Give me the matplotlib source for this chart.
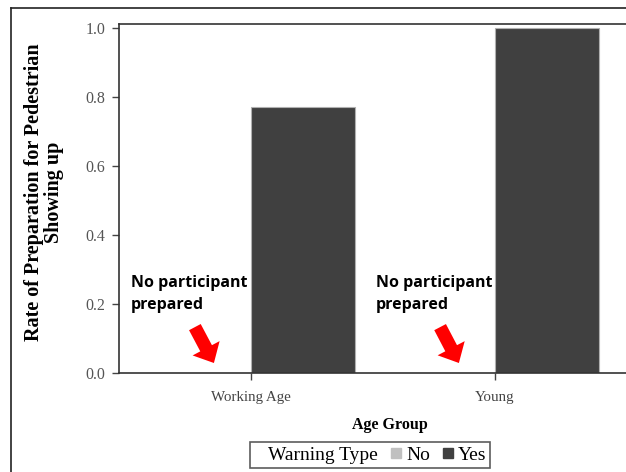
import matplotlib
matplotlib.use("Agg")
import matplotlib.pyplot as plt
from matplotlib.lines import Line2D
import numpy as np

age_groups = ["Working Age", "Young"]
warning_types = ["No", "Yes"]
rate_no = [0.0, 0.0]
rate_yes = [0.77, 1.0]
yticks = [0.0, 0.2, 0.4, 0.6, 0.8, 1.0]
note_text = "No participant\nprepared"

W, H = 626, 472
fig = plt.figure(figsize=(W / 100, H / 100), dpi=100)

# axes box in pixels: left 119, top 24, bottom 373, right past the figure edge
ax = fig.add_axes([119 / W, 1 - 373 / H, (660 - 119) / W, (373 - 24) / H])

x = np.arange(len(age_groups))
bw = 0.426
ax.bar(x - bw / 2, rate_no, bw, color="#bdbdbd", edgecolor="#b0b0b0", linewidth=0.8)
ax.bar(x + bw / 2, rate_yes, bw, color="#404040", edgecolor="#b0b0b0", linewidth=0.8)

ax.set_xlim(-0.541, (660 - 251) / 244)
ax.set_ylim(0, 1.0116)
ax.set_xticks(x)
ax.set_xticklabels(age_groups)
ax.set_yticks(yticks)
ax.set_yticklabels([f"{v:.1f}" for v in yticks])

serif = "Liberation Serif"
for lab in ax.get_xticklabels():
    lab.set_fontfamily(serif)
    lab.set_fontsize(10.8)
    lab.set_color("#444444")
for lab in ax.get_yticklabels():
    lab.set_fontfamily(serif)
    lab.set_fontsize(11.5)
    lab.set_color("#555555")
ax.tick_params(axis="both", direction="out", length=5, width=1, color="#444444", pad=5)
ax.tick_params(axis="x", pad=8)

for s in ["left", "bottom", "top"]:
    ax.spines[s].set_color("#333333")
    ax.spines[s].set_linewidth(1.2)
ax.spines["right"].set_visible(False)

ax.set_xlabel("Age Group", fontfamily=serif, fontweight="bold", fontsize=11.5, labelpad=9)
fig.text(44 / W, 1 - 192 / H, "Rate of Preparation for Pedestrian\nShowing up",
         rotation=90, ha="center", va="center", multialignment="center",
         fontfamily=serif, fontweight="bold", fontsize=14.5, linespacing=1.0)

# annotations
for tx, tail, tip in [(-0.492, (-0.230, 0.133), (-0.152, 0.029)),
                      (0.512, (0.775, 0.133), (0.852, 0.029))]:
    ax.text(tx, 0.284, note_text, ha="left", va="top", fontfamily="Open Sans",
            fontweight="bold", fontsize=11.5, linespacing=1.5)
    ax.annotate("", xy=tip, xytext=tail,
                arrowprops=dict(arrowstyle="simple,head_width=2.2,head_length=1.2,tail_width=0.95",
                                color="#ff0000", lw=0, shrinkA=0, shrinkB=0))

# legend
handles = [Line2D([], [], linestyle="none", marker="s", markersize=0, color="none"),
           Line2D([], [], linestyle="none", marker="s", markersize=7, color="#c0c0c0"),
           Line2D([], [], linestyle="none", marker="s", markersize=7, color="#404040")]
labels = ["Warning Type", "No", "Yes"]
leg = fig.legend(handles, labels, ncol=3, loc="center", bbox_to_anchor=(370 / W, 1 - 455 / H),
                 frameon=True, fancybox=False, edgecolor="#333333",
                 prop={"family": serif, "size": 14}, handlelength=0.45,
                 handletextpad=0.3, columnspacing=0.7, borderpad=0.2)
leg.get_frame().set_linewidth(1.2)

# outer frame
fig.add_artist(Line2D([11 / W, 11 / W], [0, 1 - 8 / H], transform=fig.transFigure,
                      color="#222222", lw=1.2))
fig.add_artist(Line2D([11 / W, 1], [1 - 8 / H, 1 - 8 / H], transform=fig.transFigure,
                      color="#222222", lw=1.2))

fig.savefig("out.png", dpi=100)
